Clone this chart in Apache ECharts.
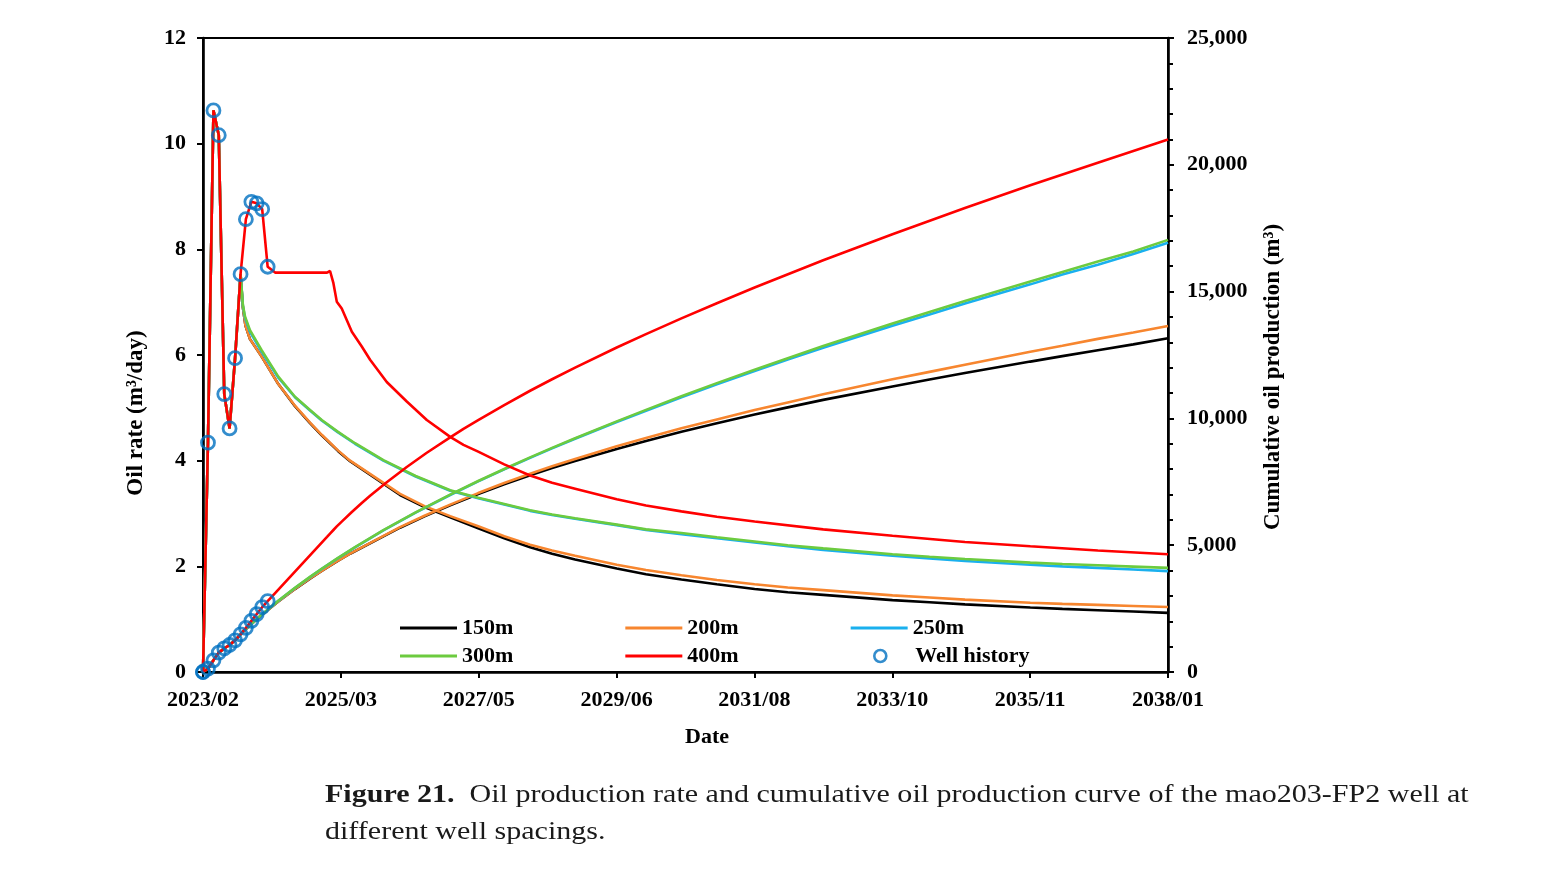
<!DOCTYPE html>
<html>
<head>
<meta charset="utf-8">
<script src="https://cdn.jsdelivr.net/npm/echarts@6/dist/echarts.min.js"></script>
<style>
html,body{margin:0;padding:0;background:#fff;}
#chart{width:1552px;height:873px;}
</style>
</head>
<body>
<div id="chart"></div>
<script>
// ---------- data (x = days since 2023/02) ----------
const xTickLabels = ['2023/02','2025/03','2027/05','2029/06','2031/08','2033/10','2035/11','2038/01'];
const rateTicks = [0, 2, 4, 6, 8, 10, 12];
const cumTicks = [0, 5000, 10000, 15000, 20000, 25000];

// well history (monthly)
const histDays = [0, 28, 59, 89, 120, 150, 181, 212, 242, 273, 303, 334, 365];
const histRate = [0, 4.34, 10.63, 10.16, 5.26, 4.61, 5.94, 7.53, 8.57, 8.90, 8.87, 8.76, 7.67];
const histCum  = [0, 130, 460, 765, 930, 1065, 1250, 1485, 1740, 2015, 2280, 2555, 2795];

// 150m forecast (after history match point at day 212)
const days150 = [225, 240, 265, 331, 425, 519, 604, 670, 763, 830, 1112, 1250, 1395, 1553, 1700, 1846, 1970, 2100, 2335, 2500, 2700, 2900, 3113, 3300, 3500, 3891, 4100, 4300, 4669, 4850, 5050, 5250, 5446];
const rate150 = [6.90, 6.55, 6.30, 5.97, 5.45, 5.03, 4.71, 4.48, 4.18, 3.99, 3.35, 3.12, 2.93, 2.72, 2.53, 2.36, 2.24, 2.13, 1.96, 1.85, 1.75, 1.66, 1.57, 1.51, 1.46, 1.36, 1.32, 1.28, 1.22, 1.195, 1.17, 1.145, 1.12];
const cum150  = [1579, 1679, 1840, 2245, 2780, 3270, 3683, 3986, 4390, 4663, 5690, 6135, 6570, 7020, 7405, 7760, 8045, 8320, 8795, 9105, 9475, 9810, 10150, 10435, 10730, 11260, 11535, 11790, 12240, 12455, 12690, 12920, 13160];

// 200m
const days200 = [225, 240, 265, 331, 425, 519, 604, 670, 763, 830, 1112, 1250, 1395, 1553, 1700, 1846, 1970, 2100, 2335, 2500, 2700, 2900, 3113, 3300, 3500, 3891, 4100, 4300, 4669, 4850, 5050, 5250, 5446];
const rate200 = [6.90, 6.55, 6.30, 5.97, 5.45, 5.04, 4.72, 4.49, 4.19, 4.00, 3.37, 3.14, 2.95, 2.76, 2.57, 2.41, 2.30, 2.20, 2.03, 1.93, 1.83, 1.74, 1.66, 1.60, 1.55, 1.45, 1.41, 1.37, 1.31, 1.29, 1.27, 1.25, 1.23];
const cum200  = [1579, 1679, 1840, 2245, 2780, 3272, 3686, 3990, 4396, 4670, 5710, 6160, 6600, 7055, 7450, 7820, 8110, 8400, 8900, 9225, 9610, 9960, 10330, 10630, 10950, 11540, 11835, 12115, 12630, 12865, 13135, 13385, 13640];

// 250m
const days250 = [225, 237, 265, 331, 425, 519, 604, 670, 760, 858, 1018, 1200, 1395, 1553, 1700, 1846, 1970, 2100, 2335, 2500, 2700, 2900, 3113, 3300, 3500, 3891, 4100, 4300, 4669, 4850, 5050, 5250, 5446];
const rate250 = [6.93, 6.70, 6.44, 6.06, 5.57, 5.20, 4.95, 4.76, 4.54, 4.32, 4.00, 3.70, 3.43, 3.29, 3.17, 3.05, 2.97, 2.90, 2.78, 2.69, 2.61, 2.53, 2.45, 2.38, 2.31, 2.20, 2.15, 2.10, 2.03, 2.00, 1.97, 1.94, 1.91];
const cum250  = [1580, 1662, 1846, 2258, 2805, 3312, 3743, 4064, 4482, 4917, 5582, 6285, 6980, 7515, 7990, 8445, 8818, 9195, 9855, 10305, 10835, 11345, 11865, 12325, 12785, 13655, 14100, 14535, 15285, 15675, 16055, 16485, 16930];

// 300m
const days300 = [225, 237, 265, 331, 425, 519, 604, 670, 760, 858, 1018, 1200, 1395, 1553, 1700, 1846, 1970, 2100, 2335, 2500, 2700, 2900, 3113, 3300, 3500, 3891, 4100, 4300, 4669, 4850, 5050, 5250, 5446];
const rate300 = [6.95, 6.73, 6.47, 6.09, 5.59, 5.21, 4.96, 4.77, 4.55, 4.33, 4.01, 3.71, 3.44, 3.30, 3.18, 3.06, 2.98, 2.91, 2.79, 2.70, 2.63, 2.55, 2.47, 2.40, 2.34, 2.23, 2.18, 2.14, 2.07, 2.045, 2.02, 1.995, 1.97];
const cum300  = [1580, 1663, 1848, 2262, 2811, 3319, 3751, 4072, 4491, 4927, 5594, 6297, 6995, 7530, 8006, 8463, 8837, 9218, 9883, 10336, 10873, 11391, 11918, 12373, 12853, 13738, 14199, 14633, 15403, 15775, 16183, 16585, 17040];

// 400m (after full history, day 365)
const days400 = [407, 700, 717, 736, 755, 783, 840, 896, 943, 1037, 1150, 1263, 1395, 1470, 1553, 1700, 1846, 1970, 2100, 2335, 2500, 2700, 2900, 3113, 3500, 3891, 4300, 4669, 5050, 5446];
const rate400 = [7.56, 7.56, 7.59, 7.36, 7.01, 6.88, 6.44, 6.16, 5.91, 5.49, 5.12, 4.77, 4.45, 4.30, 4.17, 3.93, 3.72, 3.58, 3.47, 3.27, 3.15, 3.04, 2.94, 2.85, 2.70, 2.58, 2.46, 2.38, 2.30, 2.23];
const cum400  = [3114, 5330, 5460, 5600, 5740, 5930, 6310, 6665, 6950, 7485, 8085, 8645, 9250, 9590, 9930, 10525, 11090, 11543, 12000, 12795, 13325, 13945, 14543, 15160, 16235, 17265, 18300, 19190, 20085, 21000];

const seriesNames = ['150m', '200m', '250m', '300m', '400m'];
const seriesColors = ['#000000', '#F7862F', '#1AB0EE', '#6CCB3F', '#FF0000'];
const histColor = '#0070C0';

// ---------- build ----------
function pairs(xs, ys) { return xs.map((x, i) => [x, ys[i]]); }
const HIST_SPLIT = 8; // forecasts 150-300m share history up to day 212
const histRatePts = pairs(histDays, histRate);
const histCumPts = pairs(histDays, histCum);

const forecasts = [
  {d: days150, r: rate150, c: cum150, full: false},
  {d: days200, r: rate200, c: cum200, full: false},
  {d: days250, r: rate250, c: cum250, full: false},
  {d: days300, r: rate300, c: cum300, full: false},
  {d: days400, r: rate400, c: cum400, full: true}
];

const series = [];
forecasts.forEach((f, i) => {
  const n = f.full ? histDays.length : HIST_SPLIT;
  const rateData = histRatePts.slice(0, n).concat(pairs(f.d, f.r));
  const cumData = histCumPts.slice(0, n).concat(pairs(f.d, f.c));
  const common = {
    type: 'line', name: seriesNames[i], symbol: 'none', smooth: false,
    lineStyle: {color: seriesColors[i], width: 2.6}, itemStyle: {color: seriesColors[i]},
    z: 2 + i, animation: false
  };
  series.push(Object.assign({}, common, {yAxisIndex: 0, data: rateData}));
  series.push(Object.assign({}, common, {yAxisIndex: 1, data: cumData}));
});
const histStyle = {color: 'rgba(0,0,0,0)', borderColor: histColor, borderWidth: 2.8};
series.push({type: 'scatter', name: 'Well history', yAxisIndex: 0, data: histRatePts, symbol: 'circle', symbolSize: 13, itemStyle: histStyle, z: 10});
series.push({type: 'scatter', name: 'Well history', yAxisIndex: 1, data: histCumPts, symbol: 'circle', symbolSize: 13, itemStyle: histStyle, z: 10});

const FONT = '"Liberation Serif", "Times New Roman", serif';
const labelStyle = {color: '#000', fontFamily: FONT, fontWeight: 'bold', fontSize: 22};
const lineAxis = {lineStyle: {color: '#000', width: 2.6}};
const tickStyle = {show: true, length: 6, lineStyle: {color: '#000', width: 2}};
const xStep = 778;
const LINE_ICON = 'path://M0,0H57V3.2H0Z';

function lineLegend(top, names) {
  return {
    left: 400, top: top, padding: 0, itemGap: 112, itemWidth: 57, itemHeight: 12,
    selectedMode: false,
    textStyle: Object.assign({}, labelStyle, {lineHeight: 24}),
    data: names.map(n => ({name: n, icon: LINE_ICON}))
  };
}

const option = {
  backgroundColor: '#fff',
  animation: false,
  grid: {left: 203, right: 384, top: 38, bottom: 201, show: true, borderColor: '#000', borderWidth: 2},
  legend: [
    lineLegend(616, ['150m', '200m', '250m']),
    lineLegend(644, ['300m', '400m']),
    {
      left: 873, top: 644, padding: 0, itemWidth: 12, itemHeight: 12, selectedMode: false,
      textStyle: Object.assign({}, labelStyle, {lineHeight: 24, padding: [0, 0, 0, 24]}),
      data: [{name: 'Well history', icon: 'circle', itemStyle: {color: 'rgba(0,0,0,0)', borderColor: histColor, borderWidth: 2.6}}]
    }
  ],
  xAxis: {
    type: 'value', min: 0, max: xStep * (xTickLabels.length - 1), interval: xStep,
    axisLine: lineAxis, axisTick: tickStyle, splitLine: {show: false},
    axisLabel: Object.assign({}, labelStyle, {margin: 17, formatter: v => xTickLabels[Math.round(v / xStep)] || ''})
  },
  yAxis: [
    {
      type: 'value', min: rateTicks[0], max: rateTicks[rateTicks.length - 1], interval: rateTicks[1] - rateTicks[0],
      axisLine: Object.assign({show: true}, lineAxis), axisTick: tickStyle, splitLine: {show: false},
      axisLabel: Object.assign({}, labelStyle, {margin: 17})
    },
    {
      type: 'value', position: 'right', min: cumTicks[0], max: cumTicks[cumTicks.length - 1], interval: cumTicks[1] - cumTicks[0],
      axisLine: Object.assign({show: true}, lineAxis), axisTick: tickStyle, splitLine: {show: false},
      minorTick: {show: true, splitNumber: 5, length: 5, lineStyle: {color: '#000', width: 2}},
      minorSplitLine: {show: false},
      axisLabel: Object.assign({}, labelStyle, {margin: 19, formatter: v => v.toLocaleString('en-US')})
    }
  ],
  graphic: [
    {type: 'text', x: 136, y: 413, rotation: Math.PI / 2,
     style: {text: 'Oil rate (m³/day)', font: 'bold 23px ' + FONT, fill: '#000', textAlign: 'center', textVerticalAlign: 'middle'}},
    {type: 'text', x: 1273, y: 377, rotation: Math.PI / 2,
     style: {text: 'Cumulative oil production (m³)', font: 'bold 23px ' + FONT, fill: '#000', textAlign: 'center', textVerticalAlign: 'middle'}},
    {type: 'text', x: 707, y: 737,
     style: {text: 'Date', font: 'bold 22px ' + FONT, fill: '#000', textAlign: 'center', textVerticalAlign: 'middle'}},
    {type: 'text', x: 325, y: 795, scaleX: 1.155,
     style: {text: '{b|Figure 21.}  Oil production rate and cumulative oil production curve of the mao203-FP2 well at',
       font: '26px ' + FONT, fill: '#1a1a1a', textVerticalAlign: 'middle',
       rich: {b: {fontWeight: 'bold', fontSize: 26, fontFamily: FONT, fill: '#1a1a1a'}}}},
    {type: 'text', x: 325, y: 832, scaleX: 1.155,
     style: {text: 'different well spacings.', font: '26px ' + FONT, fill: '#1a1a1a', textVerticalAlign: 'middle'}}
  ],
  series: series
};

const chart = echarts.init(document.getElementById('chart'), null, {renderer: 'canvas'});
chart.setOption(option);
</script>
</body>
</html>
